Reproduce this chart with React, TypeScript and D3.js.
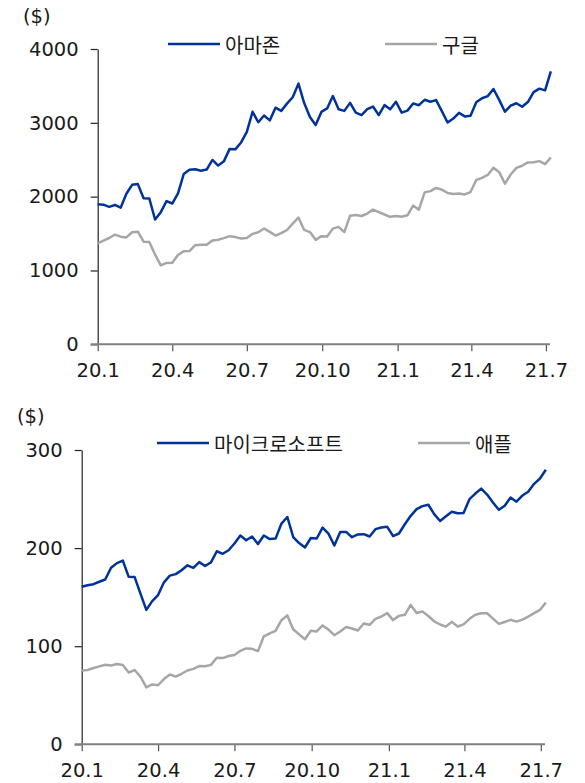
import * as d3 from 'd3';
import { useEffect, useRef } from 'react';

const WIDTH = 585;
const HEIGHT = 783;
const BLUE = '#003399';
const GRAY = '#a6a6a6';
const NUM_FONT = "'DejaVu Sans', 'Noto Sans CJK KR', sans-serif";
const KR_FONT = "'Noto Sans CJK KR', sans-serif";

// weekly samples (Wednesdays), starting 2020-01-01
const START = new Date(2020, 0, 1);
const AXIS_END = new Date(2021, 6, 6);

const xTickDates = [
  new Date(2020, 0, 1),
  new Date(2020, 3, 1),
  new Date(2020, 6, 1),
  new Date(2020, 9, 1),
  new Date(2021, 0, 1),
  new Date(2021, 3, 1),
  new Date(2021, 6, 1),
];
const xTickLabels = ['20.1', '20.4', '20.7', '20.10', '21.1', '21.4', '21.7'];

const amazon = [
  1898, 1891, 1862, 1887, 1850, 2039, 2160, 2170, 1979, 1975,
  1690, 1790, 1940, 1907, 2043, 2307, 2363, 2372, 2351, 2367,
  2497, 2421, 2478, 2647, 2641, 2734, 2878, 3150, 3008, 3099,
  3033, 3205, 3162, 3260, 3346, 3531, 3268, 3078, 2970, 3148,
  3195, 3363, 3184, 3162, 3270, 3137, 3105, 3185, 3221, 3105,
  3240, 3185, 3286, 3138, 3165, 3263, 3239, 3312, 3286, 3308,
  3159, 3005, 3058, 3135, 3087, 3095, 3279, 3333, 3362, 3458,
  3311, 3151, 3232, 3265, 3218, 3282, 3415, 3463, 3440, 3696,
];

const google = [
  1368, 1405, 1440, 1485, 1458, 1448, 1518, 1526, 1390, 1386,
  1215, 1070, 1102, 1105, 1210, 1262, 1263, 1342, 1349, 1347,
  1407, 1417, 1438, 1465, 1452, 1432, 1440, 1496, 1517, 1568,
  1523, 1473, 1506, 1548, 1634, 1717, 1549, 1520, 1415, 1465,
  1460, 1567, 1590, 1519, 1742, 1752, 1738, 1771, 1824, 1791,
  1758, 1727, 1737, 1728, 1747, 1880, 1823, 2058, 2075, 2118,
  2095, 2050, 2036, 2043, 2030, 2062, 2225, 2254, 2294, 2392,
  2332, 2175, 2300, 2389, 2418, 2464, 2465, 2481, 2441, 2530,
];

const microsoft = [
  160.6, 162.1, 163.2, 165.7, 168.0, 180.0, 184.7, 187.3, 170.7, 170.6,
  153.6, 137.0, 146.0, 152.1, 165.1, 171.9, 173.5, 177.4, 182.5, 179.8,
  185.7, 181.8, 185.4, 196.8, 194.2, 197.8, 204.7, 212.8, 208.0, 211.8,
  204.1, 212.9, 209.2, 209.7, 225.0, 231.7, 211.3, 205.1, 200.6, 210.3,
  209.8, 220.9, 214.7, 202.7, 216.4, 216.5, 211.1, 213.9, 214.2, 211.8,
  219.3, 221.0, 221.7, 212.3, 214.9, 224.3, 232.9, 239.7, 242.8, 244.2,
  234.6, 227.6, 232.4, 237.0, 235.5, 235.8, 249.9, 255.6, 260.6, 254.6,
  246.5, 239.0, 243.1, 251.5, 247.3, 253.6, 257.4, 265.5, 270.9, 279.9,
];

const apple = [
  75.1, 75.8, 77.8, 79.4, 81.1, 80.4, 81.8, 80.9, 73.2, 75.7,
  68.9, 58.0, 61.0, 60.2, 66.5, 71.1, 69.0, 71.9, 75.2, 76.9,
  79.7, 79.5, 81.0, 88.2, 87.9, 90.0, 91.0, 95.3, 97.7, 97.3,
  95.0, 110.1, 113.0, 115.7, 126.5, 131.4, 117.3, 112.1, 107.1, 115.8,
  115.1, 121.2, 116.9, 111.2, 115.0, 119.5, 118.0, 116.0, 123.1, 121.8,
  127.8, 130.3, 133.7, 126.6, 130.9, 132.0, 142.1, 133.9, 135.4, 130.8,
  125.4, 122.1, 120.0, 124.8, 120.1, 122.2, 127.9, 132.0, 133.5, 133.6,
  128.1, 122.8, 124.7, 126.9, 125.1, 127.1, 130.2, 133.7, 137.0, 144.6,
];

const weekDates = amazon.map((_, i) => d3.timeDay.offset(START, i * 7));

interface Series {
  name: string;
  values: number[];
  color: string;
  legendX: number;
}

interface PanelConfig {
  left: number;
  right: number;
  top: number;
  bottom: number;
  yMax: number;
  yTicks: number[];
  unitX: number;
  unitY: number;
  legendY: number;
  series: Series[];
}

const topPanel: PanelConfig = {
  left: 97.7,
  right: 550,
  top: 49,
  bottom: 344.3,
  yMax: 4000,
  yTicks: [0, 1000, 2000, 3000, 4000],
  unitX: 23,
  unitY: 16,
  legendY: 44,
  series: [
    { name: '구글', values: google, color: GRAY, legendX: 385 },
    { name: '아마존', values: amazon, color: BLUE, legendX: 168 },
  ],
};

const bottomPanel: PanelConfig = {
  left: 81.7,
  right: 545,
  top: 450,
  bottom: 744.3,
  yMax: 300,
  yTicks: [0, 100, 200, 300],
  unitX: 17,
  unitY: 416,
  legendY: 443,
  series: [
    { name: '애플', values: apple, color: GRAY, legendX: 418 },
    { name: '마이크로소프트', values: microsoft, color: BLUE, legendX: 157 },
  ],
};

function drawPanel(
  svg: d3.Selection<SVGSVGElement, unknown, null, undefined>,
  cfg: PanelConfig
) {
  const x = d3.scaleTime().domain([START, AXIS_END]).range([cfg.left, cfg.right]);
  const y = d3.scaleLinear().domain([0, cfg.yMax]).range([cfg.bottom, cfg.top]);
  const g = svg.append('g');

  // y axis (black)
  const yAxis = g
    .append('g')
    .attr('transform', `translate(${cfg.left},0)`)
    .call(
      d3
        .axisLeft(y)
        .tickValues(cfg.yTicks)
        .tickFormat(d3.format('d'))
        .tickSize(7)
        .tickSizeOuter(0)
        .tickPadding(12)
    );
  yAxis.select('.domain').attr('stroke', '#222').attr('stroke-width', 1.2);
  yAxis.selectAll('.tick line').attr('stroke', '#222').attr('stroke-width', 1.2);
  yAxis
    .selectAll('.tick text')
    .attr('fill', '#1a1a1a')
    .attr('font-family', NUM_FONT)
    .attr('font-size', 19.5);

  // x axis (gray), line reaches a tick length left of the y axis
  const xAxis = g
    .append('g')
    .attr('transform', `translate(0,${cfg.bottom})`)
    .call(
      d3
        .axisBottom(x)
        .tickValues(xTickDates)
        .tickFormat((_, i) => xTickLabels[i])
        .tickSize(7)
        .tickSizeOuter(0)
        .tickPadding(12)
    );
  xAxis.select('.domain').remove();
  xAxis
    .append('line')
    .attr('x1', cfg.left - 7)
    .attr('x2', cfg.right)
    .attr('stroke', '#808080')
    .attr('stroke-width', 2);
  xAxis.selectAll('.tick line').attr('stroke', '#555').attr('stroke-width', 1.2);
  xAxis
    .selectAll('.tick text')
    .attr('fill', '#1a1a1a')
    .attr('font-family', NUM_FONT)
    .attr('font-size', 19.5);

  // unit label
  g.append('text')
    .attr('x', cfg.unitX)
    .attr('y', cfg.unitY)
    .attr('dominant-baseline', 'central')
    .attr('font-family', NUM_FONT)
    .attr('font-size', 19.5)
    .attr('fill', '#1a1a1a')
    .text('($)');

  const line = d3
    .line<number>()
    .x((_, i) => x(weekDates[i]))
    .y((d) => y(d));

  cfg.series.forEach((s) => {
    g.append('path')
      .datum(s.values)
      .attr('fill', 'none')
      .attr('stroke', s.color)
      .attr('stroke-width', 2.5)
      .attr('stroke-linejoin', 'round')
      .attr('d', line);

    // legend
    g.append('line')
      .attr('x1', s.legendX)
      .attr('x2', s.legendX + 52)
      .attr('y1', cfg.legendY)
      .attr('y2', cfg.legendY)
      .attr('stroke', s.color)
      .attr('stroke-width', 2.5);
    g.append('text')
      .attr('x', s.legendX + 57)
      .attr('y', cfg.legendY)
      .attr('dominant-baseline', 'central')
      .attr('font-family', KR_FONT)
      .attr('font-size', 20)
      .attr('fill', '#1a1a1a')
      .text(s.name);
  });
}

export default function App() {
  const svgRef = useRef<SVGSVGElement>(null);

  useEffect(() => {
    if (!svgRef.current) return;
    const svg = d3.select(svgRef.current);
    svg.selectAll('*').remove();
    drawPanel(svg, topPanel);
    drawPanel(svg, bottomPanel);
  }, []);

  return (
    <svg
      ref={svgRef}
      width={WIDTH}
      height={HEIGHT}
      style={{ position: 'absolute', left: 0, top: 0, background: '#fff' }}
    />
  );
}
